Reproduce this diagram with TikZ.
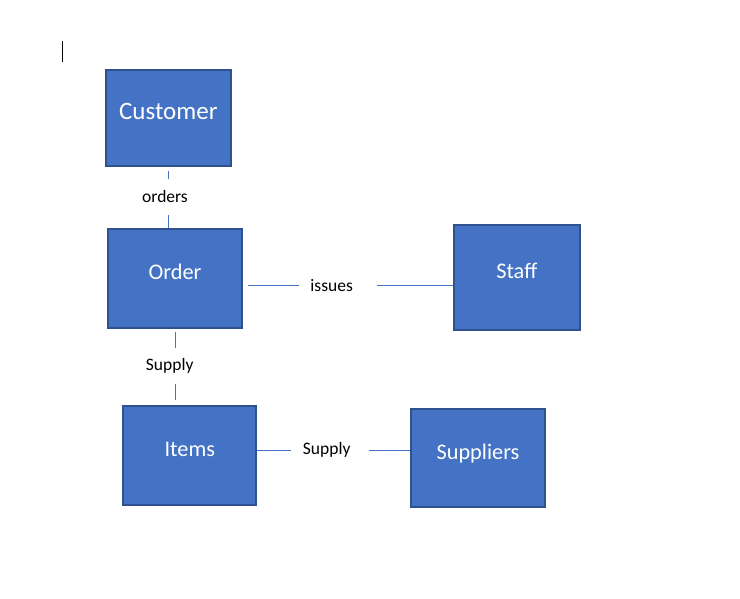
\documentclass[tikz,border=0pt]{standalone}
\usepackage{fontspec}
\setmainfont{Carlito}
\definecolor{boxfill}{HTML}{4472C4}
\definecolor{boxline}{HTML}{2F528F}
\definecolor{connline}{HTML}{4472C4}
\begin{document}
\begin{tikzpicture}[x=1pt,y=-1pt,
  entity/.style={draw=boxline, fill=boxfill, line width=2pt, text=white,
    inner sep=0pt, text height=15pt, text depth=13pt, align=center,
    font=\fontsize{22.3}{25}\selectfont},
  rel/.style={inner sep=0pt, minimum height=36pt, text=black,
    font=\fontsize{17.5}{20}\selectfont},
  conn/.style={draw=connline, line width=1pt}]
\useasboundingbox (0,0) rectangle (740,598);
% text cursor
\draw[line width=1.3pt] (62.3,41) -- (62.3,61.5);
% entities
\node[entity, minimum width=124.7pt, minimum height=95.7pt,
      font=\fontsize{25}{29}\selectfont] (cust) at (168.3,118.2) {Customer};
\node[entity, minimum width=133.4pt, minimum height=99pt] (order) at (175,278.8) {Order};
\node[entity, minimum width=125.7pt, minimum height=104.4pt] (staff) at (516.8,277.5) {Staff};
\node[entity, minimum width=133pt, minimum height=98.7pt] (items) at (189.8,455.7) {Items};
\node[entity, minimum width=133.4pt, minimum height=98.6pt] (suppliers) at (478,458) {Suppliers};
% relationship labels
\node[rel] (orders) at (165,196.7) {orders};
\node[rel] (issues) at (331.7,285.5) {issues};
\node[rel] (supply1) at (169.7,365.7) {Supply};
\node[rel] (supply2) at (326.7,450.3) {Supply};
% connectors
\draw[conn, shorten <=4pt] (cust.south) -- (orders.north -| cust.south);
\draw[conn] (orders.south -| cust.south) -- (cust.south |- order.north);
\draw[conn, shorten <=4.8pt, shorten >=11.5pt] (order.east |- issues) -- (issues.west);
\draw[conn, shorten <=24.2pt] (issues.east) -- (staff.west |- issues);
\draw[conn, shorten <=2.5pt] (order.south) -- (supply1.north -| order.south);
\draw[conn, shorten >=5pt] (supply1.south -| order.south) -- (order.south |- items.north);
\draw[conn, shorten >=12pt] (items.east |- supply2) -- (supply2.west);
\draw[conn, shorten <=18.6pt] (supply2.east) -- (suppliers.west |- supply2);
\end{tikzpicture}
\end{document}
